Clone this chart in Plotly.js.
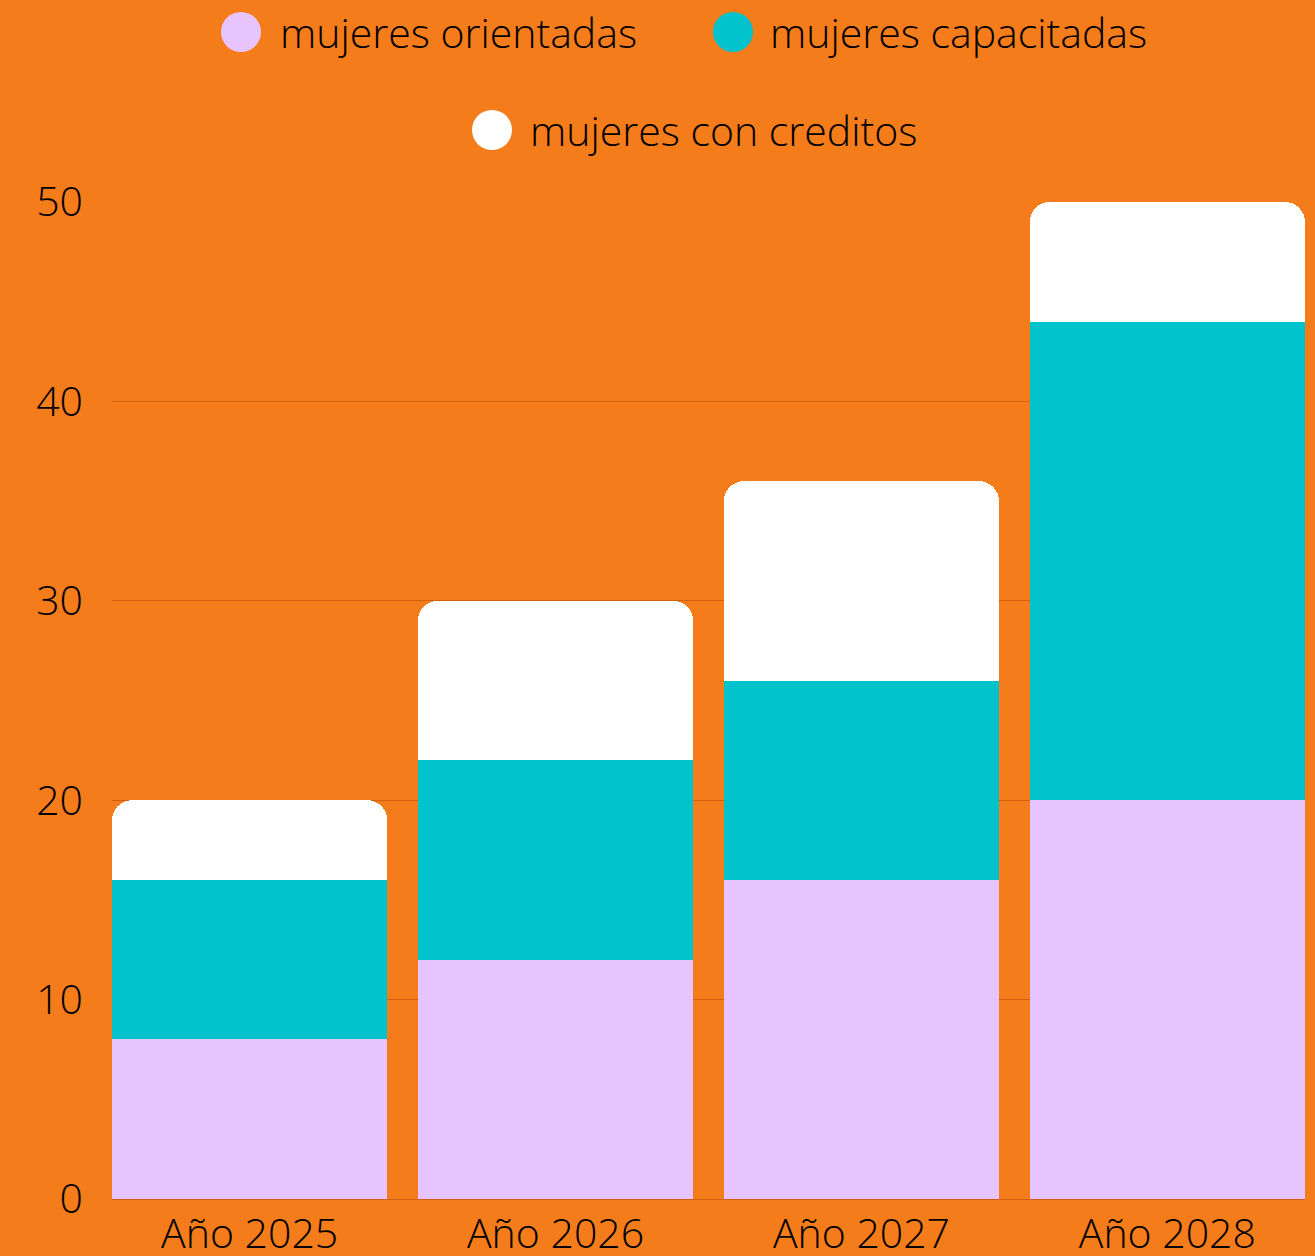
<!DOCTYPE html>
<html>
<head>
<meta charset="utf-8">
<script src="https://cdn.plot.ly/plotly-3.0.1.min.js"></script>
<style>html,body{margin:0;padding:0;background:#F47C1A;}#chart{width:1315px;height:1256px;}</style>
</head>
<body>
<div id="chart"></div>
<script>
const categories = ["Año 2025", "Año 2026", "Año 2027", "Año 2028"];
const seriesNames = ["mujeres orientadas", "mujeres capacitadas", "mujeres con creditos"];
const orientadas = [8, 12, 16, 20];
const capacitadas = [8, 10, 10, 24];
const creditos = [4, 8, 10, 6];
const yTicks = [0, 10, 20, 30, 40, 50];

const colors = ["#E8C4FF", "#00C3CC", "#FFFFFF"];
const FONT = "'Open Sans', Lato, sans-serif";
const W8 = 300;
const FS = 41;

const traces = [orientadas, capacitadas, creditos].map((vals, i) => ({
  type: "bar",
  name: seriesNames[i],
  x: categories,
  y: vals,
  marker: {color: colors[i], line: {width: 0}},
  showlegend: false,
  hoverinfo: "x+y+name"
}));

// Layout geometry (pixels)
const L = 112, R = 10, T = 202, B = 57, W = 1315, H = 1256;
const pw = W - L - R, ph = H - T - B;
const px = x => (x - L) / pw;
const py = y => (H - B - y) / ph;

const legendItems = [
  {cx: 241, cy: 32, tx: 278, name: seriesNames[0], color: colors[0]},
  {cx: 733, cy: 32, tx: 768, name: seriesNames[1], color: colors[1]},
  {cx: 492, cy: 130, tx: 528, name: seriesNames[2], color: colors[2]}
];
const shapes = legendItems.map(it => ({
  type: "circle", xref: "paper", yref: "paper",
  xsizemode: "pixel", ysizemode: "pixel",
  xanchor: px(it.cx), yanchor: py(it.cy),
  x0: -20, x1: 20, y0: -20, y1: 20,
  fillcolor: it.color, line: {width: 0}
}));
const annotations = legendItems.map(it => ({
  xref: "paper", yref: "paper", x: px(it.tx), y: py(it.cy),
  xanchor: "left", yanchor: "middle", showarrow: false,
  text: it.name, font: {family: FONT, size: FS, weight: W8, color: "#000"}
}));

const layout = {
  width: W, height: H,
  paper_bgcolor: "#F47C1A", plot_bgcolor: "#F47C1A",
  margin: {l: L, r: R, t: T, b: B, pad: 0},
  barmode: "stack", bargap: 0.1, barcornerradius: 20,
  showlegend: false,
  font: {family: FONT, size: FS, weight: W8, color: "#000"},
  xaxis: {
    type: "category", range: [-0.45, 3.45], showgrid: false, zeroline: false,
    showline: false, ticks: "", ticklabelstandoff: 7,
    tickfont: {family: FONT, size: FS, weight: W8, color: "#000"}, fixedrange: true
  },
  yaxis: {
    range: [0, 50], tickvals: yTicks, ticktext: yTicks.map(String),
    showgrid: true, gridcolor: "#D0600E", gridwidth: 1, zeroline: true,
    zerolinecolor: "#D0600E", zerolinewidth: 1, showline: false, ticks: "",
    ticklabelstandoff: 28, tickfont: {family: FONT, size: FS, weight: W8, color: "#000"}, fixedrange: true
  },
  shapes: shapes,
  annotations: annotations
};

Plotly.newPlot("chart", traces, layout, {displayModeBar: false, staticPlot: true});
</script>
</body>
</html>
